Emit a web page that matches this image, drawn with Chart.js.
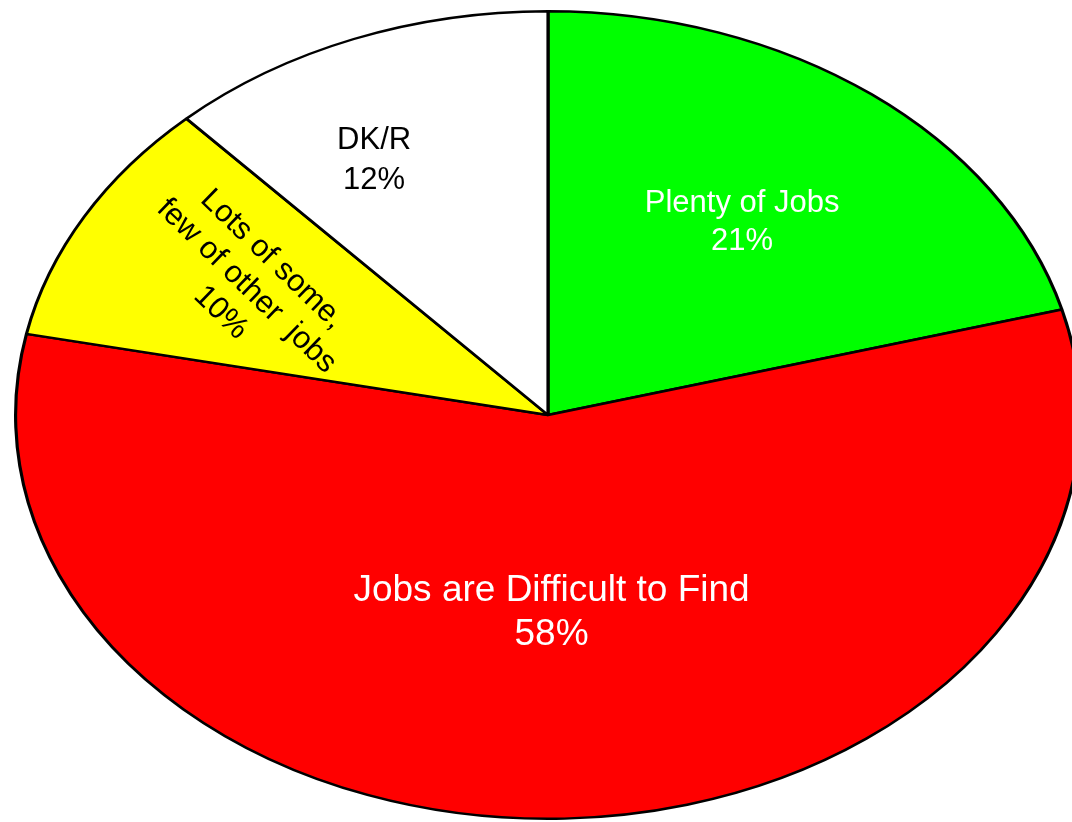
<!DOCTYPE html>
<html>
<head>
<meta charset="utf-8">
<script src="https://cdn.jsdelivr.net/npm/chart.js@4.4.0/dist/chart.umd.min.js"></script>
<style>
  html, body { margin: 0; padding: 0; background: #ffffff; }
  canvas { display: block; }
</style>
</head>
<body>
<canvas id="jobsPie" width="1072" height="822"></canvas>
<script>
// Data
const categories = ['Plenty of Jobs', 'Jobs are Difficult to Find', 'Lots of some, few of other  jobs', 'DK/R'];
const shares = [21, 58, 10, 12];
const sliceColors = ['#00ff00', '#ff0000', '#ffff00', '#ffffff'];

// Label text lines per slice
const labelLines = [
    ['Plenty of Jobs', '21%'],
    ['Jobs are Difficult to Find', '58%'],
    ['Lots of some,', 'few of other  jobs', '10%'],
    ['DK/R', '12%']
];

// the original pie is an ellipse, so stretch the circle sideways
const STRETCH_X = 534 / 405;

const labelStyle = [
    { color: '#ffffff', size: 31, lineH: 38, f: 0.60, turn: 0, rot: 0 },
    { color: '#ffffff', size: 37, lineH: 44, f: 0.49, turn: 1, rot: 0 },
    { color: '#000000', size: 31, lineH: 37, f: 0.65, turn: 0, rot: 44 },
    { color: '#000000', size: 31, lineH: 40, f: 0.71, turn: -6, rot: 0 }
];

const ellipsePlugin = {
    id: 'ellipse',
    beforeDatasetsDraw(chart) {
        const ctx = chart.ctx;
        const arc = chart.getDatasetMeta(0).data[0];
        ctx.save();
        ctx.translate(arc.x, 0);
        ctx.scale(STRETCH_X, 1);
        ctx.translate(-arc.x, 0);
    },
    afterDatasetsDraw(chart) {
        const ctx = chart.ctx;
        ctx.restore();

        chart.getDatasetMeta(0).data.forEach((arc, i) => {
            const p = arc.getProps(['x', 'y', 'startAngle', 'endAngle', 'outerRadius'], true);
            const st = labelStyle[i];
            const mid = (p.startAngle + p.endAngle) / 2 + st.turn * Math.PI / 180;
            const r = p.outerRadius * st.f;
            const lx = p.x + Math.cos(mid) * r * STRETCH_X;
            const ly = p.y + Math.sin(mid) * r;

            ctx.save();
            ctx.translate(lx, ly);
            ctx.rotate(st.rot * Math.PI / 180);
            ctx.fillStyle = st.color;
            ctx.font = st.size + 'px "Liberation Sans", Arial, sans-serif';
            ctx.textAlign = 'center';
            ctx.textBaseline = 'middle';
            const lines = labelLines[i];
            lines.forEach((t, k) => {
                ctx.fillText(t, 0, (k - (lines.length - 1) / 2) * st.lineH);
            });
            ctx.restore();
        });
    }
};

new Chart(document.getElementById('jobsPie').getContext('2d'), {
    type: 'pie',
    data: {
        labels: categories,
        datasets: [{
            data: shares,
            backgroundColor: sliceColors,
            borderColor: '#000000',
            borderWidth: 2.4,
            borderAlign: 'center'
        }]
    },
    options: {
        responsive: false,
        animation: false,
        events: [],
        layout: { padding: { left: 24, right: 0, top: 10, bottom: 2 } },
        plugins: {
            legend: { display: false },
            tooltip: { enabled: false }
        }
    },
    plugins: [ellipsePlugin]
});
</script>
</body>
</html>
